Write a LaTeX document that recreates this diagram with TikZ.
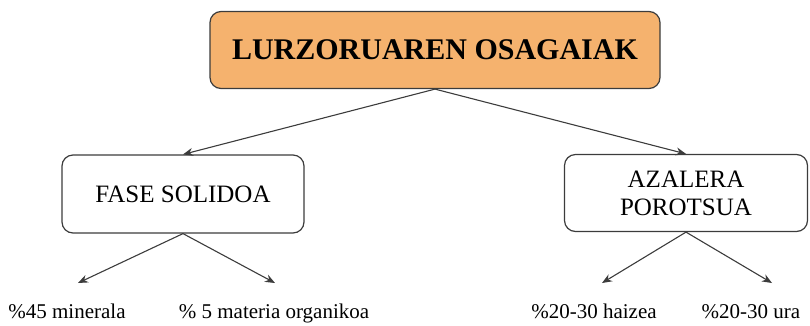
\documentclass[tikz,border=0pt]{standalone}
\usepackage{fontspec}
\setmainfont{Liberation Serif}
\usetikzlibrary{arrows.meta}
\definecolor{topfill}{RGB}{245,178,110}
\definecolor{edge}{RGB}{60,60,60}
\tikzset{
  box/.style={draw=edge, line width=1.2pt, rounded corners=11pt, align=center, inner sep=0pt},
  lbl/.style={anchor=base, inner sep=0pt, font=\fontsize{21}{24}\selectfont},
  conn/.style={draw=edge, line width=1.1pt, -{Stealth[length=10pt,width=8pt]}}
}
\begin{document}
\begin{tikzpicture}[x=1pt,y=-1pt]
\useasboundingbox (0,0) rectangle (810,325);
\node[box, fill=topfill, minimum width=450pt, minimum height=77pt, font=\fontsize{30}{34}\selectfont\bfseries] (top) at (435,50) {LURZORUAREN OSAGAIAK};
\node[box, fill=white, minimum width=242pt, minimum height=78pt, font=\fontsize{25}{28}\selectfont] (fase) at (183,194) {FASE SOLIDOA};
\node[box, fill=white, minimum width=243pt, minimum height=77pt, font=\fontsize{25}{28}\selectfont] (azal) at (686,193) {AZALERA\\POROTSUA};
\node[lbl] (t1) at (67,318) {\%45 minerala};
\node[lbl] (t2) at (274,318) {\% 5 materia organikoa};
\node[lbl] (t3) at (594,318) {\%20-30 haizea};
\node[lbl] (t4) at (751,318) {\%20-30 ura};
\coordinate (c1) at (78,283);
\coordinate (c2) at (275,283);
\coordinate (c3) at (602,283);
\coordinate (c4) at (772,283);
\draw[conn] (top.south) -- (fase.north);
\draw[conn] (top.south) -- (azal.north);
\draw[conn] (fase.south) -- (c1);
\draw[conn] (fase.south) -- (c2);
\draw[conn] (azal.south) -- (c3);
\draw[conn] (azal.south) -- (c4);
\end{tikzpicture}
\end{document}
